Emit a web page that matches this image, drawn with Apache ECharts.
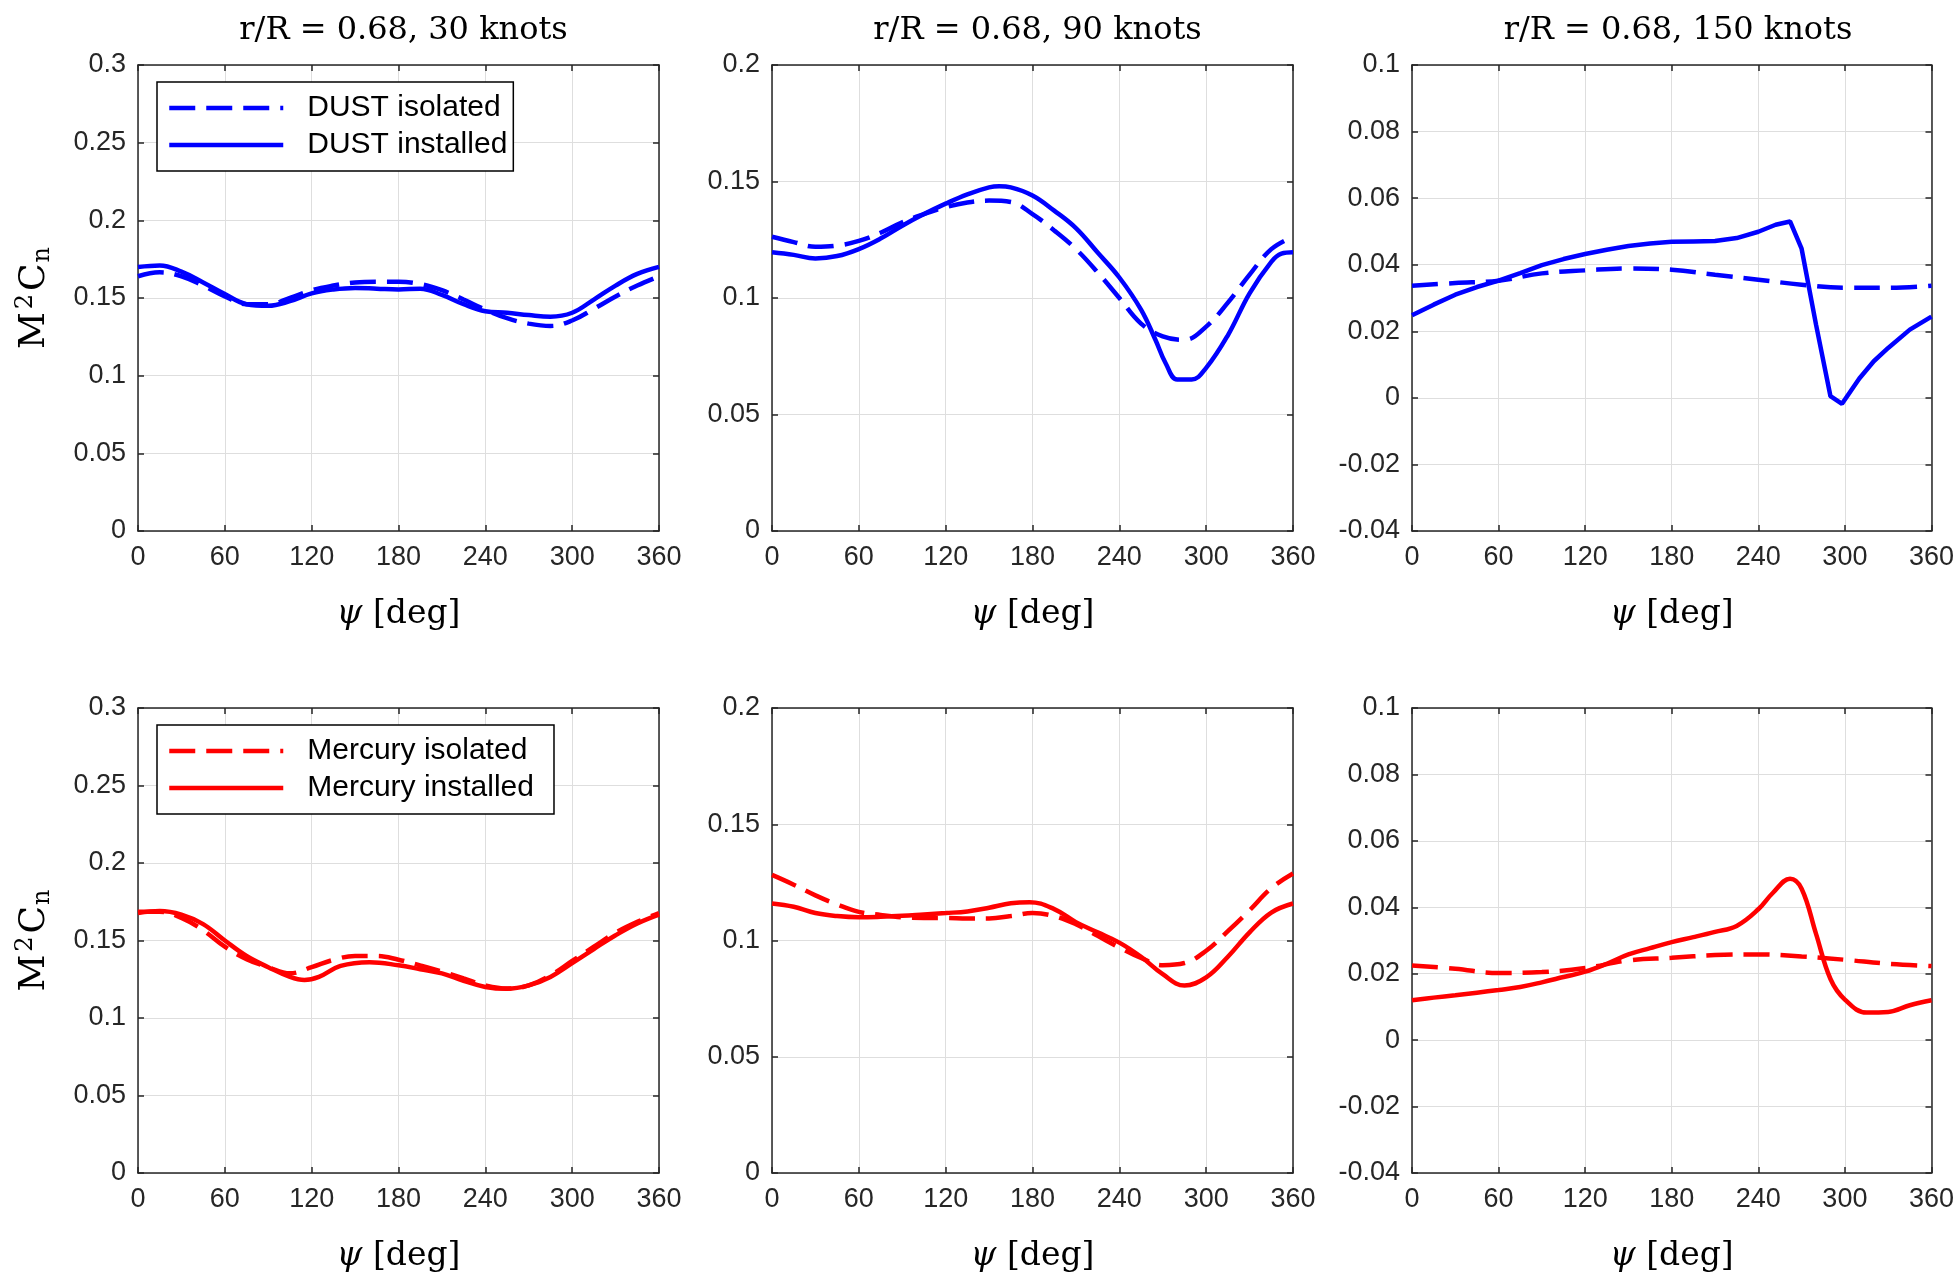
<!DOCTYPE html>
<html>
<head>
<meta charset="utf-8">
<script src="https://cdn.jsdelivr.net/npm/echarts@6/dist/echarts.min.js"></script>
<style>
html, body { margin: 0; background: #fff; }
#chart { width: 1957px; height: 1283px; }
</style>
</head>
<body>
<div id="chart"></div>
<script>
// azimuth samples [deg]
var psi15 = [0,15,30,45,60,75,90,105,120,135,150,165,180,195,210,225,240,255,270,285,300,315,330,345,360];
var psi30 = [0,30,60,90,120,150,180,210,240,270,300,330,360];

// DUST, 30 knots
var dustIso30 = [0.164,0.1665,0.164,0.158,0.151,0.146,0.146,0.150,0.155,0.158,0.160,0.1605,0.1605,0.159,0.155,0.149,0.1425,0.137,0.1335,0.132,0.1355,0.143,0.151,0.158,0.164];
var dustIns30 = [0.170,0.171,0.167,0.160,0.1525,0.146,0.145,0.148,0.153,0.1555,0.1565,0.156,0.1555,0.156,0.152,0.146,0.1415,0.1405,0.139,0.138,0.1405,0.149,0.158,0.1655,0.170];

// DUST, 90 knots
var dustIso90 = [0.1263,0.124,0.122,0.1225,0.1245,0.128,0.1325,0.136,0.139,0.141,0.1418,0.1412,0.136,0.129,0.121,0.111,0.100,0.089,0.0835,0.082,0.0877,0.098,0.110,0.121,0.1263];
var dustIns90Psi = [0,15,30,45,60,75,90,105,120,135,150,157,165,180,195,210,225,240,255,265,272,280,290,300,315,330,345,352,360];
var dustIns90 = [0.1196,0.1185,0.117,0.118,0.121,0.1255,0.131,0.136,0.1405,0.1445,0.1475,0.148,0.1475,0.144,0.1375,0.130,0.1195,0.1088,0.095,0.082,0.072,0.065,0.065,0.070,0.084,0.102,0.1155,0.119,0.1196];

// DUST, 150 knots
var dustIso150 = [0.0337,0.0345,0.0352,0.0374,0.0383,0.0389,0.0385,0.037,0.0355,0.034,0.0331,0.0331,0.0337];
var dustIns150Psi = [0,15,30,45,60,75,90,105,120,135,150,165,180,195,210,225,240,252,262,270,280,290,298,310,320,330,345,360];
var dustIns150 = [0.0248,0.028,0.031,0.0333,0.0352,0.0375,0.0399,0.0417,0.0432,0.0445,0.0456,0.0464,0.0469,0.047,0.0471,0.048,0.0499,0.052,0.053,0.0448,0.022,0.0005,-0.0018,0.0058,0.011,0.015,0.0205,0.0244];

// Mercury, 30 knots
var merIso30 = [0.1685,0.1685,0.1646,0.1566,0.146,0.138,0.1328,0.1288,0.1328,0.1375,0.140,0.140,0.1376,0.134,0.130,0.1255,0.121,0.119,0.121,0.1275,0.1368,0.146,0.155,0.162,0.1677];
var merIns30Psi = [0,15,30,45,60,75,90,105,115,125,140,160,180,195,210,225,240,255,270,285,300,315,330,345,360];
var merIns30 = [0.1677,0.169,0.1667,0.1606,0.150,0.140,0.1328,0.1265,0.1245,0.1265,0.1336,0.136,0.134,0.1315,0.1288,0.124,0.120,0.1188,0.121,0.1265,0.1354,0.1445,0.1534,0.161,0.1667];

// Mercury, 90 knots
var merIso90 = [0.1282,0.124,0.1194,0.1155,0.1123,0.111,0.110,0.1097,0.1097,0.1095,0.1095,0.1105,0.1118,0.1105,0.107,0.102,0.097,0.0925,0.0894,0.0903,0.0956,0.104,0.113,0.1225,0.1288];
var merIns90Psi = [0,15,30,45,60,75,90,105,120,135,150,165,178,195,210,225,240,255,270,285,300,315,330,345,360];
var merIns90 = [0.1159,0.1145,0.1118,0.1105,0.110,0.1102,0.1106,0.1112,0.1118,0.1125,0.1141,0.116,0.1165,0.1135,0.1079,0.1035,0.0991,0.093,0.0855,0.0806,0.0841,0.093,0.1035,0.112,0.1159];

// Mercury, 150 knots
var merIso150 = [0.0225,0.0215,0.0202,0.0205,0.0217,0.024,0.0248,0.0256,0.0258,0.0252,0.0242,0.023,0.0223];
var merIns150Psi = [0,15,30,45,60,75,90,105,120,135,150,165,180,195,210,225,240,250,262,270,280,290,300,315,330,345,360];
var merIns150 = [0.012,0.0128,0.0135,0.0143,0.0151,0.016,0.0174,0.019,0.0206,0.023,0.0258,0.0277,0.0295,0.031,0.0326,0.0344,0.0394,0.0443,0.0486,0.0456,0.032,0.0184,0.0122,0.0083,0.0085,0.0105,0.012];

var titles = ['r/R = 0.68, 30 knots', 'r/R = 0.68, 90 knots', 'r/R = 0.68, 150 knots'];
var xTicks = { min: 0, max: 360, interval: 60 };
var yRanges = [[0, 0.3, 0.05], [0, 0.2, 0.05], [-0.04, 0.1, 0.02]];

var panels = [
  { iso: [psi15, dustIso30], ins: [psi15, dustIns30], names: ['DUST isolated', 'DUST installed'], color: '#0000ff', smoothIns: true },
  { iso: [psi15, dustIso90], ins: [dustIns90Psi, dustIns90], names: ['DUST isolated', 'DUST installed'], color: '#0000ff', smoothIns: true },
  { iso: [psi30, dustIso150], ins: [dustIns150Psi, dustIns150], names: ['DUST isolated', 'DUST installed'], color: '#0000ff', smoothIns: false },
  { iso: [psi15, merIso30], ins: [merIns30Psi, merIns30], names: ['Mercury isolated', 'Mercury installed'], color: '#ff0000', smoothIns: true },
  { iso: [psi15, merIso90], ins: [merIns90Psi, merIns90], names: ['Mercury isolated', 'Mercury installed'], color: '#ff0000', smoothIns: true },
  { iso: [psi30, merIso150], ins: [merIns150Psi, merIns150], names: ['Mercury isolated', 'Mercury installed'], color: '#ff0000', smoothIns: true }
];

var lefts = [138, 772, 1412];
var widths = [521, 521, 522];
var tops = [65, 708];
var heights = [466, 465];

var axisCol = '#262626';
var tickFont = 'Liberation Sans';
var serif = 'DejaVu Serif';

function zip(xs, ys) {
  return xs.map(function (x, i) { return [x, ys[i]]; });
}

var grid = [], xAxis = [], yAxis = [], series = [], title = [], legend = [];

panels.forEach(function (p, i) {
  var row = Math.floor(i / 3), col = i % 3;
  var yr = yRanges[col];
  grid.push({ left: lefts[col], top: tops[row], width: widths[col], height: heights[row] });

  var lineStyle = { color: axisCol, width: 1.5 };
  var tick = { show: true, inside: true, length: 6, lineStyle: { color: axisCol, width: 1.5 } };

  xAxis.push({
    gridIndex: i, type: 'value', min: xTicks.min, max: xTicks.max, interval: xTicks.interval,
    axisLine: { show: true, onZero: false, lineStyle: lineStyle },
    axisTick: tick,
    axisLabel: { fontFamily: tickFont, fontSize: 27, color: axisCol, margin: 13 },
    splitLine: { show: true, lineStyle: { color: '#dedede', width: 1 } },
    name: '{i|ψ} [deg]', nameLocation: 'middle', nameGap: 67,
    nameTextStyle: {
      fontFamily: serif, fontSize: 33, color: '#000',
      rich: { i: { fontFamily: serif, fontStyle: 'italic', fontSize: 33, color: '#000' } }
    }
  });
  xAxis.push({
    gridIndex: i, type: 'value', position: 'top', min: xTicks.min, max: xTicks.max, interval: xTicks.interval,
    axisLine: { show: true, onZero: false, lineStyle: lineStyle },
    axisTick: tick, axisLabel: { show: false }, splitLine: { show: false }
  });

  var yMain = {
    gridIndex: i, type: 'value', min: yr[0], max: yr[1], interval: yr[2],
    axisLine: { show: true, onZero: false, lineStyle: lineStyle },
    axisTick: tick,
    axisLabel: { fontFamily: tickFont, fontSize: 27, color: axisCol, margin: 12 },
    splitLine: { show: true, lineStyle: { color: '#dedede', width: 1 } }
  };
  if (col === 0) {
    yMain.name = '{a|M}{sup|2}{a|C}{sub|n}';
    yMain.nameLocation = 'middle';
    yMain.nameGap = 82;
    yMain.nameTextStyle = {
      fontFamily: serif, fontSize: 36, color: '#000',
      rich: {
        a: { fontFamily: serif, fontSize: 36, color: '#000' },
        sup: { fontFamily: serif, fontSize: 24, color: '#000', padding: [0, 3, 18, 3] },
        sub: { fontFamily: serif, fontSize: 24, color: '#000', padding: [16, 0, 0, 1] }
      }
    };
  }
  yAxis.push(yMain);
  yAxis.push({
    gridIndex: i, type: 'value', position: 'right', min: yr[0], max: yr[1], interval: yr[2],
    axisLine: { show: true, onZero: false, lineStyle: lineStyle },
    axisTick: tick, axisLabel: { show: false }, splitLine: { show: false }
  });

  series.push({
    name: p.names[0], type: 'line', xAxisIndex: 2 * i, yAxisIndex: 2 * i,
    data: zip(p.iso[0], p.iso[1]), smooth: 0.4, symbol: 'none',
    lineStyle: { color: p.color, width: 4.5, type: [26, 11] }, itemStyle: { color: p.color }
  });
  series.push({
    name: p.names[1], type: 'line', xAxisIndex: 2 * i, yAxisIndex: 2 * i,
    data: zip(p.ins[0], p.ins[1]), smooth: p.smoothIns ? 0.4 : false, symbol: 'none',
    lineStyle: { color: p.color, width: 4.5, type: 'solid' }, itemStyle: { color: p.color }
  });

  if (row === 0) {
    title.push({
      text: titles[col], left: lefts[col] + widths[col] / 2, top: 10, textAlign: 'center',
      textStyle: { fontFamily: serif, fontSize: 32, fontWeight: 'normal', color: '#000' }
    });
  }
  if (col === 0) {
    legend.push({
      orient: 'vertical', left: 157, top: tops[row] + 17,
      data: p.names, selectedMode: false,
      itemWidth: 114, itemHeight: 30, itemGap: 7,
      padding: row === 0 ? [11, 6, 11, 10] : [11, 20, 11, 10],
      borderColor: '#000', borderWidth: 1.5, backgroundColor: '#fff',
      lineStyle: { width: 4.5 },
      itemStyle: { color: 'rgba(0,0,0,0)', borderWidth: 0, opacity: 0 },
      textStyle: { fontFamily: tickFont, fontSize: 30, color: '#000', padding: [0, 0, 0, 19] }
    });
  }
});

var chart = echarts.init(document.getElementById('chart'));
chart.setOption({
  backgroundColor: '#fff',
  animation: false,
  title: title,
  legend: legend,
  grid: grid,
  xAxis: xAxis,
  yAxis: yAxis,
  series: series
});
</script>
</body>
</html>
